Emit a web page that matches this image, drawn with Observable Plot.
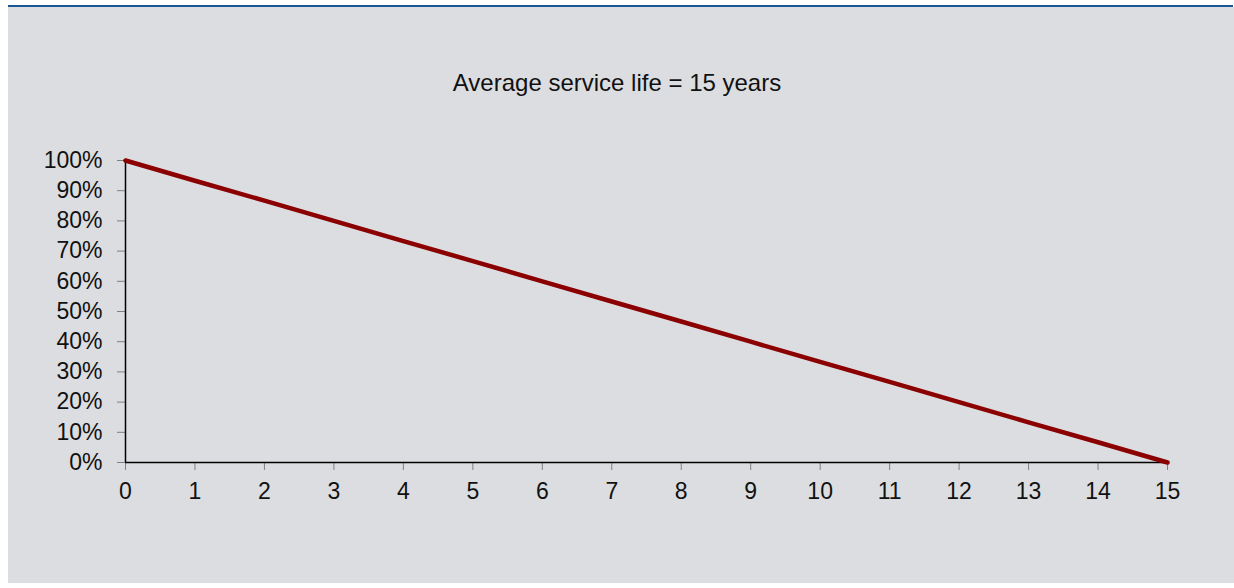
<!DOCTYPE html>
<html>
<head>
<meta charset="utf-8">
<script src="https://cdn.jsdelivr.net/npm/d3@7"></script>
<script src="https://cdn.jsdelivr.net/npm/@observablehq/plot@0.6"></script>
<style>
  html, body { margin: 0; padding: 0; background: #ffffff; }
  body { width: 1234px; height: 588px; position: relative; overflow: hidden;
         font-family: "Liberation Sans", Arial, sans-serif; }
  #panel { position: absolute; left: 8px; top: 7px; width: 1226px; height: 576px; background: #dcdde0; }
  #bar { position: absolute; left: 8px; top: 5px; width: 1225px; height: 2px; background: #1a5596; }
  #title { position: absolute; left: 0; top: 69px; width: 1234px; text-align: center;
           font-size: 24px; color: #111; }
  #chart { position: absolute; left: 0; top: 0; }
</style>
</head>
<body>
<div id="panel"></div>
<div id="bar"></div>
<div id="title">Average service life = 15 years</div>
<div id="chart"></div>
<script>
const titleText = "Average service life = 15 years";
const years = [0, 1, 2, 3, 4, 5, 6, 7, 8, 9, 10, 11, 12, 13, 14, 15];
const remaining = [1.00, 0.933, 0.867, 0.80, 0.733, 0.667, 0.60, 0.533, 0.467, 0.40, 0.333, 0.267, 0.20, 0.133, 0.067, 0.00];
const xTicks = [0, 1, 2, 3, 4, 5, 6, 7, 8, 9, 10, 11, 12, 13, 14, 15];
const yTicks = [0, 0.1, 0.2, 0.3, 0.4, 0.5, 0.6, 0.7, 0.8, 0.9, 1.0];

document.getElementById("title").textContent = titleText;
const data = years.map((t, i) => ({year: t, value: remaining[i]}));

const chart = Plot.plot({
  width: 1234,
  height: 588,
  marginLeft: 125,
  marginRight: 67,
  marginTop: 160,
  marginBottom: 126,
  style: {background: "transparent", fontFamily: "'Liberation Sans', Arial, sans-serif", fontSize: "23px", color: "#111"},
  x: {domain: [0, 15]},
  y: {domain: [0, 1]},
  marks: [
    Plot.axisY(yTicks, {tickSize: 8, tickPadding: 15, stroke: "#808080", fill: "#111", tickFormat: d3.format(".0%"), label: null, fontSize: 23}),
    Plot.axisX(xTicks, {tickSize: 8, tickPadding: 12, stroke: "#808080", fill: "#111", tickFormat: d => String(d), label: null, fontSize: 23}),
    Plot.ruleX([0], {stroke: "#000", strokeWidth: 1.5}),
    Plot.ruleY([0], {stroke: "#000", strokeWidth: 1.5}),
    Plot.line(data, {x: "year", y: "value", stroke: "#8b0000", strokeWidth: 4.5, strokeLinecap: "round"})
  ]
});
document.getElementById("chart").appendChild(chart);
</script>
</body>
</html>
